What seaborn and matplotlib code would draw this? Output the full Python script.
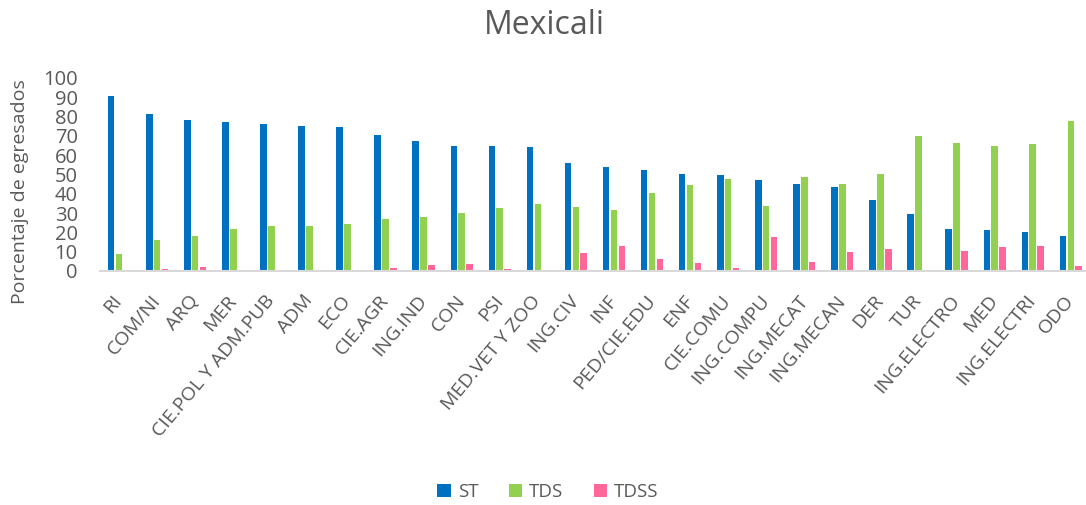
import matplotlib
matplotlib.use("Agg")
import matplotlib.pyplot as plt
import seaborn as sns
import pandas as pd

categories = ["RI", "COM/NI", "ARQ", "MER", "CIE.POL Y ADM.PUB", "ADM", "ECO", "CIE.AGR",
              "ING.IND", "CON", "PSI", "MED.VET Y ZOO", "ING.CIV", "INF", "PED/CIE.EDU", "ENF",
              "CIE.COMU", "ING.COMPU", "ING.MECAT", "ING.MECAN", "DER", "TUR", "ING.ELECTRO",
              "MED", "ING.ELECTRI", "ODO"]
st = [90.5, 81.5, 78.4, 77.2, 76.3, 74.9, 74.7, 70.4,
      67.3, 65.0, 64.7, 64.3, 56.0, 54.0, 52.2, 50.2,
      49.6, 47.0, 45.3, 43.6, 36.8, 29.6, 21.8,
      21.3, 20.1, 18.0]
tds = [8.8, 15.9, 18.0, 21.6, 23.2, 23.5, 24.4, 27.0,
       27.9, 30.1, 32.7, 34.8, 33.2, 31.7, 40.3, 44.6,
       47.7, 33.7, 48.8, 45.3, 50.0, 69.7, 66.3,
       64.9, 65.6, 77.8]
tdss = [0.0, 1.0, 2.1, 0.0, 0.0, 0.3, 0.0, 1.5,
        3.3, 3.5, 1.0, 0.0, 9.3, 13.0, 6.0, 4.2,
        1.4, 17.6, 4.5, 9.7, 11.6, 0.0, 10.5,
        12.6, 13.0, 2.8]
series = ["ST", "TDS", "TDSS"]
colors = ["#0070C0", "#92D050", "#FF6699"]
title = "Mexicali"
ylabel = "Porcentaje de egresados"
yticks = list(range(0, 101, 10))

rows = []
for name, vals in zip(series, [st, tds, tdss]):
    for c, v in zip(categories, vals):
        rows.append({"cat": c, "serie": name, "valor": v})
df = pd.DataFrame(rows)

sns.set_theme(style="white")
plt.rcParams["font.family"] = ["Open Sans", "DejaVu Sans"]
text_color = "#595959"

fig = plt.figure(figsize=(10.86, 5.05), dpi=100)
ax = fig.add_axes([100 / 1086, (505 - 271) / 505, 986 / 1086, 193 / 505])

sns.barplot(data=df, x="cat", y="valor", hue="serie", order=categories,
            hue_order=series, palette=colors, width=0.62, gap=0.17,
            saturation=1, linewidth=0, ax=ax, legend=True)

ax.set_xlim(-0.5, len(categories) - 0.6)
ax.set_ylim(0, 100)
ax.set_yticks(yticks)
ax.set_yticklabels([str(t) for t in yticks], fontsize=14.5, color=text_color)
ax.tick_params(axis="y", length=0, pad=16)
ax.tick_params(axis="x", length=0, pad=19)
ax.set_xticks(range(len(categories)))
ax.set_xticklabels(categories, rotation=50, ha="right", va="center",
                   rotation_mode="anchor", fontsize=14, color=text_color)
ax.set_xlabel("")
ax.set_ylabel("")
for s in ["top", "right", "left"]:
    ax.spines[s].set_visible(False)
ax.spines["bottom"].set_color("#D9D9D9")
ax.spines["bottom"].set_linewidth(1.5)
ax.grid(False)

fig.text(544 / 1086, 1 - 26 / 505, title, ha="center", va="center",
         fontsize=23, color=text_color)
fig.text(20 / 1086, 1 - 192 / 505, ylabel, ha="center", va="center",
         rotation=90, fontsize=14, color=text_color)

ax.get_legend().remove()
handles, labels = ax.get_legend_handles_labels()
fig.legend(handles[:3], labels[:3], loc="center", bbox_to_anchor=(548 / 1086, 1 - 492 / 505),
           ncol=3, frameon=False, fontsize=13.5, labelcolor=text_color,
           handlelength=0.7, handleheight=0.7, handletextpad=0.4, columnspacing=1.6)

fig.savefig("out.png", dpi=100)
